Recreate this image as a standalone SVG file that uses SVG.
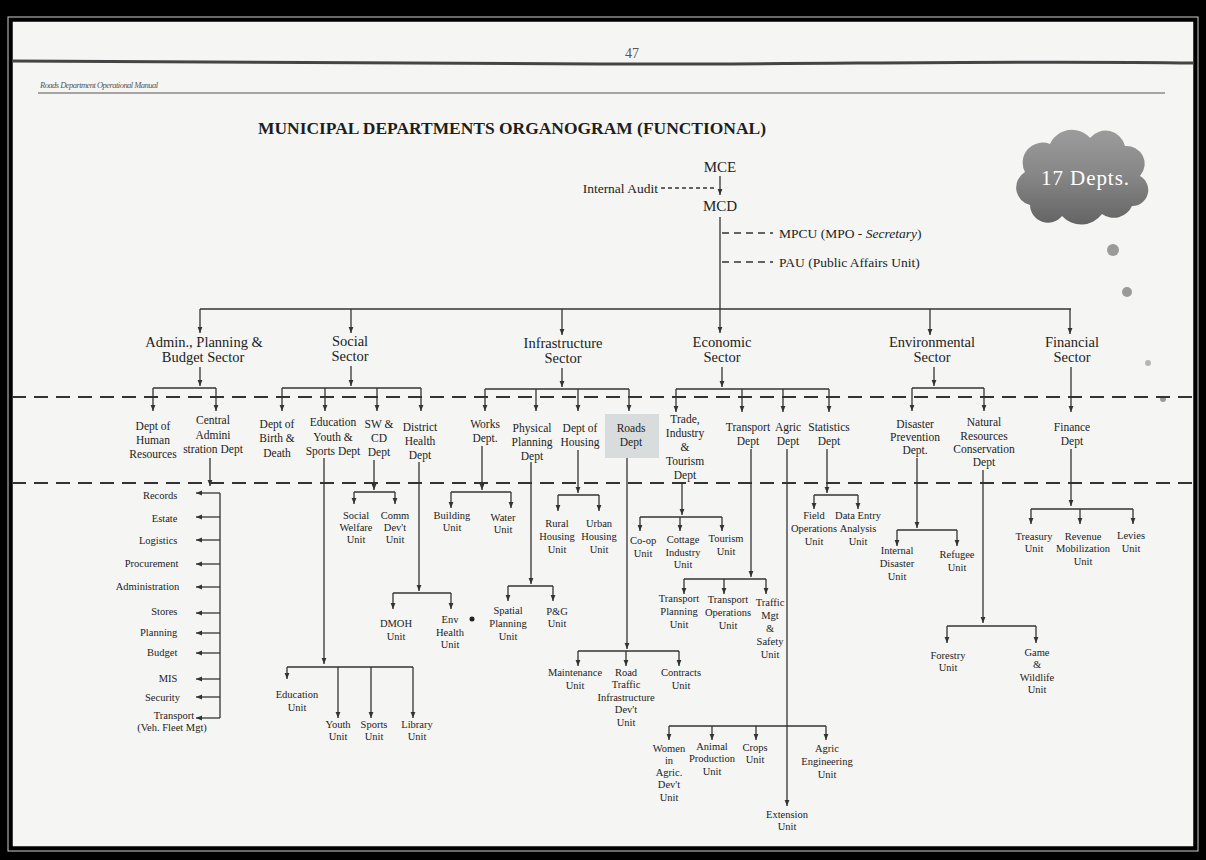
<svg xmlns="http://www.w3.org/2000/svg" width="1206" height="860" viewBox="0 0 1206 860">
<defs>
<marker id="ah" viewBox="0 0 10 10" refX="10" refY="5" markerWidth="7" markerHeight="6" markerUnits="userSpaceOnUse" orient="auto"><path d="M0,1 L10,5 L0,9 z" fill="#333"/></marker>
<linearGradient id="cg" x1="0" y1="0" x2="0" y2="1"><stop offset="0" stop-color="#9c9c9c"/><stop offset="0.5" stop-color="#858585"/><stop offset="1" stop-color="#646464"/></linearGradient>
</defs>
<style>
text{font-family:"Liberation Serif","DejaVu Serif",serif;fill:#222}
.sec{font-size:14.5px;text-anchor:middle}
.top{font-size:15px;text-anchor:middle}
.side{font-size:13.5px}
.dept{font-size:11.5px;text-anchor:middle}
.unit{font-size:10.5px;text-anchor:middle}
.lst{font-size:10.5px;text-anchor:end}
.ln line{stroke:#333;stroke-width:1.3;fill:none}
.ln line.ar{marker-end:url(#ah)}
.ln line.dsh{stroke-dasharray:4 3}
.ln line.dsh2{stroke-dasharray:7 5}
.rule{stroke:#333;stroke-width:2;stroke-dasharray:14 8}
</style>
<rect x="0" y="0" width="1206" height="860" fill="#000"/>
<rect x="8" y="17" width="1190" height="834" fill="none" stroke="#cfcfcf" stroke-width="1"/>
<rect x="12" y="21" width="1182" height="826" fill="#f5f6f4" stroke="#000" stroke-width="1.5"/>
<g id="header">
<text x="632" y="58" style="font-size:14px;fill:#555" text-anchor="middle">47</text>
<path d="M12,61 C200,62 400,63 600,64 C800,65 1000,60 1194,63" stroke="#444" stroke-width="3" fill="none"/>
<text x="40" y="88" style="font-size:8.5px;font-style:italic;fill:#555" textLength="118">Roads Department Operational Manual</text>
<line x1="38" y1="93" x2="1165" y2="93" stroke="#555" stroke-width="1.2"/>
<text x="512" y="134" style="font-size:17px;font-weight:bold;fill:#1e1e1e" text-anchor="middle" textLength="508" lengthAdjust="spacingAndGlyphs">MUNICIPAL DEPARTMENTS ORGANOGRAM (FUNCTIONAL)</text>
</g>
<g id="cloud">
<path d="M1030,205 a18,18 0 0 1 -5,-33 a20,20 0 0 1 25,-28 a24,24 0 0 1 40,-6 a20,20 0 0 1 35,8 a18,18 0 0 1 15,30 a16,16 0 0 1 -8,30 a20,20 0 0 1 -30,8 a26,26 0 0 1 -40,2 a18,18 0 0 1 -32,-11 z" fill="url(#cg)"/>
<text x="1085" y="185" style="font-size:21px;fill:#fff" text-anchor="middle" textLength="88">17 Depts.</text>
</g>
<g id="specks" fill="#9a9a9a">
<circle cx="1113" cy="250" r="6"/>
<circle cx="1127" cy="292" r="5"/>
<circle cx="1148" cy="363" r="3" fill="#b5b5b5"/>
<circle cx="1163" cy="399" r="3"/>
<circle cx="472" cy="619" r="2.5" fill="#222"/>
</g>
<g id="rules">
<line class="rule" x1="12" y1="397" x2="1194" y2="397"/>
<line class="rule" x1="12" y1="483" x2="1194" y2="483"/>
</g>
<rect id="roads-shade" x="605" y="414" width="54" height="44" fill="#d8dcdc"/>

<g id="connectors" class="ln">
<line class="ar" x1="720" y1="176" x2="720" y2="195"/>
<line class="dsh" x1="661" y1="188" x2="716" y2="188"/>
<line class="ar" x1="720" y1="217" x2="720" y2="333"/>
<line class="dsh2" x1="722" y1="233" x2="773" y2="233"/>
<line class="dsh2" x1="722" y1="262" x2="773" y2="262"/>
<line x1="200" y1="309" x2="1071" y2="309"/>
<line class="ar" x1="200" y1="309" x2="200" y2="333"/>
<line class="ar" x1="351" y1="309" x2="351" y2="333"/>
<line class="ar" x1="562" y1="309" x2="562" y2="335"/>
<line class="ar" x1="930" y1="309" x2="930" y2="335"/>
<line class="ar" x1="1070" y1="309" x2="1070" y2="334"/>
<!-- admin -->
<line class="ar" x1="200" y1="367" x2="200" y2="386"/>
<line x1="153" y1="388" x2="216" y2="388"/>
<line class="ar" x1="153" y1="388" x2="153" y2="411"/>
<line class="ar" x1="216" y1="388" x2="216" y2="411"/>
<!-- social -->
<line class="ar" x1="351" y1="366" x2="351" y2="386"/>
<line x1="282" y1="388" x2="421" y2="388"/>
<line class="ar" x1="282" y1="388" x2="282" y2="411"/>
<line class="ar" x1="325" y1="388" x2="325" y2="411"/>
<line class="ar" x1="377" y1="388" x2="377" y2="411"/>
<line class="ar" x1="421" y1="388" x2="421" y2="411"/>
<!-- infra -->
<line class="ar" x1="562" y1="368" x2="562" y2="387"/>
<line x1="485" y1="389" x2="629" y2="389"/>
<line class="ar" x1="485" y1="389" x2="485" y2="411"/>
<line class="ar" x1="536" y1="389" x2="536" y2="411"/>
<line class="ar" x1="578" y1="389" x2="578" y2="411"/>
<line class="ar" x1="629" y1="389" x2="629" y2="411"/>
<!-- econ -->
<line class="ar" x1="722" y1="367" x2="722" y2="387"/>
<line x1="676" y1="389" x2="829" y2="389"/>
<line class="ar" x1="676" y1="389" x2="676" y2="412"/>
<line class="ar" x1="742" y1="389" x2="742" y2="412"/>
<line class="ar" x1="783" y1="389" x2="783" y2="412"/>
<line class="ar" x1="829" y1="389" x2="829" y2="412"/>
<!-- env -->
<line class="ar" x1="934" y1="367" x2="934" y2="386"/>
<line x1="912" y1="388" x2="984" y2="388"/>
<line class="ar" x1="912" y1="388" x2="912" y2="411"/>
<line class="ar" x1="984" y1="388" x2="984" y2="411"/>
<!-- fin -->
<line class="ar" x1="1071" y1="367" x2="1071" y2="412"/>
<!-- central admin list -->
<line class="ar" x1="210" y1="458" x2="210" y2="486"/>
<line x1="220" y1="493" x2="220" y2="718"/>
<line class="ar" x1="220" y1="493" x2="196" y2="493"/>
<line class="ar" x1="220" y1="517" x2="196" y2="517"/>
<line class="ar" x1="220" y1="540" x2="196" y2="540"/>
<line class="ar" x1="220" y1="564" x2="196" y2="564"/>
<line class="ar" x1="220" y1="587" x2="196" y2="587"/>
<line class="ar" x1="220" y1="613" x2="196" y2="613"/>
<line class="ar" x1="220" y1="633" x2="196" y2="633"/>
<line class="ar" x1="220" y1="653" x2="196" y2="653"/>
<line class="ar" x1="220" y1="679" x2="196" y2="679"/>
<line class="ar" x1="220" y1="697" x2="196" y2="697"/>
<line class="ar" x1="220" y1="718" x2="196" y2="718"/>
<!-- education -->
<line class="ar" x1="324" y1="458" x2="324" y2="664"/>
<line x1="287" y1="667" x2="413" y2="667"/>
<line class="ar" x1="287" y1="667" x2="287" y2="679"/>
<line class="ar" x1="338" y1="667" x2="338" y2="718"/>
<line class="ar" x1="371" y1="667" x2="371" y2="718"/>
<line class="ar" x1="413" y1="667" x2="413" y2="718"/>
<!-- sw cd -->
<line class="ar" x1="374" y1="460" x2="374" y2="490"/>
<line x1="354" y1="492" x2="395" y2="492"/>
<line class="ar" x1="354" y1="492" x2="354" y2="504"/>
<line class="ar" x1="395" y1="492" x2="395" y2="504"/>
<!-- district health -->
<line class="ar" x1="419" y1="462" x2="419" y2="591"/>
<line x1="393" y1="593" x2="451" y2="593"/>
<line class="ar" x1="393" y1="593" x2="393" y2="609"/>
<line class="ar" x1="451" y1="593" x2="451" y2="609"/>
<!-- works -->
<line class="ar" x1="482" y1="446" x2="482" y2="490"/>
<line x1="451" y1="492" x2="511" y2="492"/>
<line class="ar" x1="451" y1="492" x2="451" y2="508"/>
<line class="ar" x1="511" y1="492" x2="511" y2="508"/>
<!-- physical planning -->
<line class="ar" x1="531" y1="462" x2="531" y2="584"/>
<line x1="508" y1="586" x2="553" y2="586"/>
<line class="ar" x1="508" y1="586" x2="508" y2="601"/>
<line class="ar" x1="553" y1="586" x2="553" y2="601"/>
<!-- housing -->
<line class="ar" x1="578" y1="450" x2="578" y2="493"/>
<line x1="558" y1="495" x2="599" y2="495"/>
<line class="ar" x1="558" y1="495" x2="558" y2="511"/>
<line class="ar" x1="599" y1="495" x2="599" y2="511"/>
<!-- roads -->
<line class="ar" x1="627" y1="458" x2="627" y2="649"/>
<line x1="578" y1="651" x2="679" y2="651"/>
<line class="ar" x1="578" y1="651" x2="578" y2="666"/>
<line class="ar" x1="626" y1="651" x2="626" y2="666"/>
<line class="ar" x1="679" y1="651" x2="679" y2="666"/>
<!-- trade -->
<line class="ar" x1="682" y1="482" x2="682" y2="515"/>
<line x1="640" y1="517" x2="722" y2="517"/>
<line class="ar" x1="640" y1="517" x2="640" y2="531"/>
<line class="ar" x1="680" y1="517" x2="680" y2="531"/>
<line class="ar" x1="722" y1="517" x2="722" y2="531"/>
<!-- transport -->
<line class="ar" x1="751" y1="449" x2="751" y2="577"/>
<line x1="684" y1="579" x2="766" y2="579"/>
<line class="ar" x1="684" y1="579" x2="684" y2="594"/>
<line class="ar" x1="724" y1="579" x2="724" y2="594"/>
<line class="ar" x1="766" y1="579" x2="766" y2="594"/>
<!-- agric -->
<line class="ar" x1="787" y1="449" x2="787" y2="806"/>
<line x1="669" y1="726" x2="826" y2="726"/>
<line class="ar" x1="669" y1="726" x2="669" y2="740"/>
<line class="ar" x1="712" y1="726" x2="712" y2="740"/>
<line class="ar" x1="756" y1="726" x2="756" y2="740"/>
<line class="ar" x1="826" y1="726" x2="826" y2="740"/>
<!-- statistics -->
<line class="ar" x1="827" y1="449" x2="827" y2="493"/>
<line x1="814" y1="495" x2="858" y2="495"/>
<line class="ar" x1="814" y1="495" x2="814" y2="509"/>
<line class="ar" x1="858" y1="495" x2="858" y2="509"/>
<!-- disaster -->
<line class="ar" x1="917" y1="458" x2="917" y2="528"/>
<line x1="897" y1="530" x2="957" y2="530"/>
<line class="ar" x1="897" y1="530" x2="897" y2="546"/>
<line class="ar" x1="957" y1="530" x2="957" y2="546"/>
<!-- natural resources -->
<line class="ar" x1="983" y1="470" x2="983" y2="623"/>
<line x1="947" y1="626" x2="1036" y2="626"/>
<line class="ar" x1="947" y1="626" x2="947" y2="643"/>
<line class="ar" x1="1036" y1="626" x2="1036" y2="643"/>
<!-- finance -->
<line class="ar" x1="1071" y1="449" x2="1071" y2="506"/>
<line x1="1031" y1="509" x2="1133" y2="509"/>
<line class="ar" x1="1031" y1="509" x2="1031" y2="524"/>
<line class="ar" x1="1080" y1="509" x2="1080" y2="524"/>
<line class="ar" x1="1133" y1="509" x2="1133" y2="524"/>
</g>

<g id="mce"><text class="top" x="720" y="172">MCE</text></g>
<g id="mcd"><text class="top" x="720" y="211">MCD</text></g>
<g id="internal-audit"><text class="side" x="658" y="193" text-anchor="end">Internal Audit</text></g>
<g id="mpcu"><text class="side" x="779" y="238">MPCU (MPO - <tspan font-style="italic">Secretary</tspan>)</text></g>
<g id="pau"><text class="side" x="779" y="267">PAU (Public Affairs Unit)</text></g>

<g id="sec-admin"><text class="sec"><tspan x="204" y="347">Admin., Planning &amp;</tspan><tspan x="203" y="362">Budget Sector</tspan></text></g>
<g id="sec-social"><text class="sec"><tspan x="350" y="346">Social</tspan><tspan x="350" y="361">Sector</tspan></text></g>
<g id="sec-infra"><text class="sec"><tspan x="563" y="348">Infrastructure</tspan><tspan x="563" y="363">Sector</tspan></text></g>
<g id="sec-econ"><text class="sec"><tspan x="722" y="347">Economic</tspan><tspan x="722" y="362">Sector</tspan></text></g>
<g id="sec-env"><text class="sec"><tspan x="932" y="347">Environmental</tspan><tspan x="932" y="362">Sector</tspan></text></g>
<g id="sec-fin"><text class="sec"><tspan x="1072" y="347">Financial</tspan><tspan x="1072" y="362">Sector</tspan></text></g>

<g id="d-hr"><text class="dept"><tspan x="153" y="430">Dept of</tspan><tspan x="153" y="444">Human</tspan><tspan x="153" y="458">Resources</tspan></text></g>
<g id="d-central"><text class="dept"><tspan x="213" y="424">Central</tspan><tspan x="213" y="439">Admini</tspan><tspan x="213" y="453">stration Dept</tspan></text></g>
<g id="d-birth"><text class="dept"><tspan x="277" y="428">Dept of</tspan><tspan x="277" y="442">Birth &amp;</tspan><tspan x="277" y="457">Death</tspan></text></g>
<g id="d-edu"><text class="dept"><tspan x="333" y="426">Education</tspan><tspan x="333" y="441">Youth &amp;</tspan><tspan x="333" y="455">Sports Dept</tspan></text></g>
<g id="d-swcd"><text class="dept"><tspan x="379" y="428">SW &amp;</tspan><tspan x="379" y="442">CD</tspan><tspan x="379" y="456">Dept</tspan></text></g>
<g id="d-health"><text class="dept"><tspan x="420" y="431">District</tspan><tspan x="420" y="445">Health</tspan><tspan x="420" y="459">Dept</tspan></text></g>
<g id="d-works"><text class="dept"><tspan x="485" y="428">Works</tspan><tspan x="485" y="442">Dept.</tspan></text></g>
<g id="d-phys"><text class="dept"><tspan x="532" y="432">Physical</tspan><tspan x="532" y="446">Planning</tspan><tspan x="532" y="460">Dept</tspan></text></g>
<g id="d-housing"><text class="dept"><tspan x="580" y="432">Dept of</tspan><tspan x="580" y="446">Housing</tspan></text></g>
<g id="d-roads"><text class="dept"><tspan x="631" y="432">Roads</tspan><tspan x="631" y="446">Dept</tspan></text></g>
<g id="d-trade"><text class="dept"><tspan x="685" y="423">Trade,</tspan><tspan x="685" y="437">Industry</tspan><tspan x="685" y="451">&amp;</tspan><tspan x="685" y="465">Tourism</tspan><tspan x="685" y="479">Dept</tspan></text></g>
<g id="d-transport"><text class="dept"><tspan x="748" y="431">Transport</tspan><tspan x="748" y="445">Dept</tspan></text></g>
<g id="d-agric"><text class="dept"><tspan x="788" y="431">Agric</tspan><tspan x="788" y="445">Dept</tspan></text></g>
<g id="d-stats"><text class="dept"><tspan x="829" y="431">Statistics</tspan><tspan x="829" y="445">Dept</tspan></text></g>
<g id="d-disaster"><text class="dept"><tspan x="915" y="428">Disaster</tspan><tspan x="915" y="441">Prevention</tspan><tspan x="915" y="454">Dept.</tspan></text></g>
<g id="d-natural"><text class="dept"><tspan x="984" y="426">Natural</tspan><tspan x="984" y="440">Resources</tspan><tspan x="984" y="453">Conservation</tspan><tspan x="984" y="466">Dept</tspan></text></g>
<g id="d-finance"><text class="dept"><tspan x="1072" y="431">Finance</tspan><tspan x="1072" y="445">Dept</tspan></text></g>

<g id="admin-units"><text class="lst">
<tspan x="180" y="499">Records</tspan>
<tspan x="180" y="522">Estate</tspan>
<tspan x="180" y="544">Logistics</tspan>
<tspan x="181" y="567">Procurement</tspan>
<tspan x="182" y="590">Administration</tspan>
<tspan x="180" y="615">Stores</tspan>
<tspan x="180" y="636">Planning</tspan>
<tspan x="180" y="656">Budget</tspan>
<tspan x="180" y="682">MIS</tspan>
<tspan x="180" y="701">Security</tspan>
</text>
<text class="unit"><tspan x="174" y="719">Transport</tspan><tspan x="172" y="731">(Veh. Fleet Mgt)</tspan></text></g>

<g id="u-socwel"><text class="unit"><tspan x="356" y="519">Social</tspan><tspan x="356" y="531">Welfare</tspan><tspan x="356" y="543">Unit</tspan></text></g>
<g id="u-comm"><text class="unit"><tspan x="395" y="519">Comm</tspan><tspan x="395" y="531">Dev't</tspan><tspan x="395" y="543">Unit</tspan></text></g>
<g id="u-dmoh"><text class="unit"><tspan x="396" y="627">DMOH</tspan><tspan x="396" y="640">Unit</tspan></text></g>
<g id="u-env"><text class="unit"><tspan x="450" y="623">Env</tspan><tspan x="450" y="636">Health</tspan><tspan x="450" y="648">Unit</tspan></text></g>
<g id="u-edu"><text class="unit"><tspan x="297" y="698">Education</tspan><tspan x="297" y="711">Unit</tspan></text></g>
<g id="u-youth"><text class="unit"><tspan x="338" y="728">Youth</tspan><tspan x="338" y="740">Unit</tspan></text></g>
<g id="u-sports"><text class="unit"><tspan x="374" y="728">Sports</tspan><tspan x="374" y="740">Unit</tspan></text></g>
<g id="u-library"><text class="unit"><tspan x="417" y="728">Library</tspan><tspan x="417" y="740">Unit</tspan></text></g>
<g id="u-building"><text class="unit"><tspan x="452" y="519">Building</tspan><tspan x="452" y="531">Unit</tspan></text></g>
<g id="u-water"><text class="unit"><tspan x="503" y="521">Water</tspan><tspan x="503" y="533">Unit</tspan></text></g>
<g id="u-rural"><text class="unit"><tspan x="557" y="527">Rural</tspan><tspan x="557" y="540">Housing</tspan><tspan x="557" y="553">Unit</tspan></text></g>
<g id="u-urban"><text class="unit"><tspan x="599" y="527">Urban</tspan><tspan x="599" y="540">Housing</tspan><tspan x="599" y="553">Unit</tspan></text></g>
<g id="u-spatial"><text class="unit"><tspan x="508" y="614">Spatial</tspan><tspan x="508" y="627">Planning</tspan><tspan x="508" y="640">Unit</tspan></text></g>
<g id="u-pg"><text class="unit"><tspan x="557" y="615">P&amp;G</tspan><tspan x="557" y="627">Unit</tspan></text></g>
<g id="u-maint"><text class="unit"><tspan x="575" y="676">Maintenance</tspan><tspan x="575" y="689">Unit</tspan></text></g>
<g id="u-rtid"><text class="unit"><tspan x="626" y="676">Road</tspan><tspan x="626" y="688">Traffic</tspan><tspan x="626" y="701">Infrastructure</tspan><tspan x="626" y="713">Dev't</tspan><tspan x="626" y="726">Unit</tspan></text></g>
<g id="u-contracts"><text class="unit"><tspan x="681" y="676">Contracts</tspan><tspan x="681" y="689">Unit</tspan></text></g>
<g id="u-coop"><text class="unit"><tspan x="643" y="544">Co-op</tspan><tspan x="643" y="557">Unit</tspan></text></g>
<g id="u-cottage"><text class="unit"><tspan x="683" y="543">Cottage</tspan><tspan x="683" y="556">Industry</tspan><tspan x="683" y="568">Unit</tspan></text></g>
<g id="u-tourism"><text class="unit"><tspan x="726" y="542">Tourism</tspan><tspan x="726" y="555">Unit</tspan></text></g>
<g id="u-tplan"><text class="unit"><tspan x="679" y="602">Transport</tspan><tspan x="679" y="615">Planning</tspan><tspan x="679" y="628">Unit</tspan></text></g>
<g id="u-tops"><text class="unit"><tspan x="728" y="603">Transport</tspan><tspan x="728" y="616">Operations</tspan><tspan x="728" y="629">Unit</tspan></text></g>
<g id="u-traffic"><text class="unit"><tspan x="770" y="606">Traffic</tspan><tspan x="770" y="619">Mgt</tspan><tspan x="770" y="632">&amp;</tspan><tspan x="770" y="645">Safety</tspan><tspan x="770" y="658">Unit</tspan></text></g>
<g id="u-women"><text class="unit"><tspan x="669" y="752">Women</tspan><tspan x="669" y="764">in</tspan><tspan x="669" y="776">Agric.</tspan><tspan x="669" y="788">Dev't</tspan><tspan x="669" y="801">Unit</tspan></text></g>
<g id="u-animal"><text class="unit"><tspan x="712" y="750">Animal</tspan><tspan x="712" y="762">Production</tspan><tspan x="712" y="775">Unit</tspan></text></g>
<g id="u-crops"><text class="unit"><tspan x="755" y="751">Crops</tspan><tspan x="755" y="763">Unit</tspan></text></g>
<g id="u-agreng"><text class="unit"><tspan x="827" y="752">Agric</tspan><tspan x="827" y="765">Engineering</tspan><tspan x="827" y="778">Unit</tspan></text></g>
<g id="u-ext"><text class="unit"><tspan x="787" y="818">Extension</tspan><tspan x="787" y="830">Unit</tspan></text></g>
<g id="u-field"><text class="unit"><tspan x="814" y="519">Field</tspan><tspan x="814" y="532">Operations</tspan><tspan x="814" y="545">Unit</tspan></text></g>
<g id="u-data"><text class="unit"><tspan x="858" y="519">Data Entry</tspan><tspan x="858" y="532">Analysis</tspan><tspan x="858" y="545">Unit</tspan></text></g>
<g id="u-intdis"><text class="unit"><tspan x="897" y="554">Internal</tspan><tspan x="897" y="567">Disaster</tspan><tspan x="897" y="580">Unit</tspan></text></g>
<g id="u-refugee"><text class="unit"><tspan x="957" y="558">Refugee</tspan><tspan x="957" y="571">Unit</tspan></text></g>
<g id="u-forestry"><text class="unit"><tspan x="948" y="659">Forestry</tspan><tspan x="948" y="671">Unit</tspan></text></g>
<g id="u-game"><text class="unit"><tspan x="1037" y="656">Game</tspan><tspan x="1037" y="668">&amp;</tspan><tspan x="1037" y="681">Wildlife</tspan><tspan x="1037" y="693">Unit</tspan></text></g>
<g id="u-treasury"><text class="unit"><tspan x="1034" y="540">Treasury</tspan><tspan x="1034" y="552">Unit</tspan></text></g>
<g id="u-revenue"><text class="unit"><tspan x="1083" y="540">Revenue</tspan><tspan x="1083" y="552">Mobilization</tspan><tspan x="1083" y="565">Unit</tspan></text></g>
<g id="u-levies"><text class="unit"><tspan x="1131" y="539">Levies</tspan><tspan x="1131" y="552">Unit</tspan></text></g>
</svg>
